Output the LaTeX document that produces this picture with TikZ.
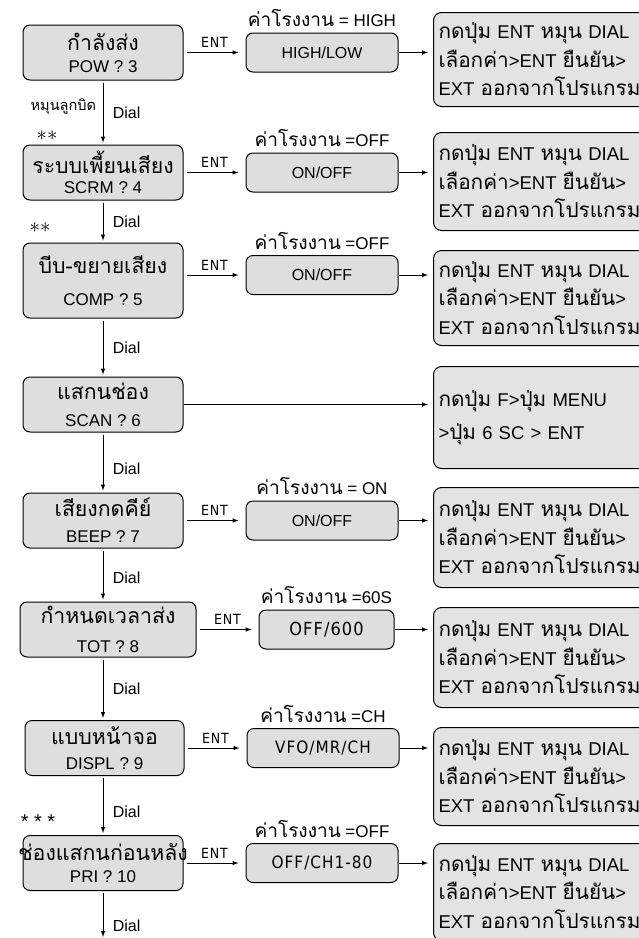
\documentclass[tikz,border=0pt]{standalone}
\usepackage{fontspec}
\setmainfont{Liberation Sans}
\newfontfamily\thai[Script=Thai, Scale=1.12]{Loma}
\newfontfamily\narrow[LetterSpace=6]{DejaVu Sans Condensed}
\usetikzlibrary{positioning,arrows}

\newcommand{\entdial}{{\thai กดปุ่ม} ENT {\thai หมุน} DIAL\\
  {\thai เลือกค่า}>ENT {\thai ยืนยัน}>\\
  EXT {\thai ออกจากโปรแกรม}}
\newcommand{\deflt}[1]{{\thai ค่าโรงงาน} #1}
\newcommand{\mthai}[1]{{\thai\fontsize{19}{22}\selectfont #1}}

\begin{document}
\begin{tikzpicture}[
    x=1pt, y=-1pt,
    >=latex,
    node distance=62pt,
    menu/.style={ draw=black, fill=black!13,
      rounded corners=7pt, line width=1pt,
      align=center,
      minimum width=160pt,
      minimum height=55pt,
      inner sep=1pt,
      font=\fontsize{17}{22}\selectfont},
    value/.style={ draw=black, fill=black!13,
      rounded corners=7pt, line width=1pt,
      minimum width=152pt,
      minimum height=39pt,
      font=\fontsize{16}{19}\selectfont},
    howto/.style={ draw=black, fill=black!11,
      rounded corners=8pt, line width=1pt,
      anchor=north west, align=left,
      text width=260pt, inner xsep=5pt,
      font=\fontsize{18.5}{28.5}\selectfont},
    factory/.style={above=2pt, font=\fontsize{17}{20}\selectfont},
    ent/.style={above=1pt, font=\narrow\fontsize{14}{16}\selectfont},
    dial/.style={right=6pt, font=\fontsize{16}{18}\selectfont},
    twist/.style={left=3pt, font=\thai\fontsize{13}{14}\selectfont},
    link/.style={->, line width=1pt}]
    \useasboundingbox (0,0) rectangle (639,938);
    \clip (0,0) rectangle (639,938);

    \node[menu] (pow) at (103,52.5) {\mthai{กำลังส่ง}\\POW ? 3};
    \node[menu] (scrm) at (103,172.5) {\mthai{ระบบเพี้ยนเสียง}\\[-2pt]SCRM ? 4};
    \node[menu, minimum height=75pt] (comp) at (103,280.5) {\mthai{บีบ-ขยายเสียง}\\[10pt]COMP ? 5};
    \node[menu] (scan) at (103,404.5) {\mthai{แสกนช่อง}\\[5pt]SCAN ? 6};
    \node[menu] (beep) at (103,520.5) {\mthai{เสียงกดคีย์}\\[4pt]BEEP ? 7};
    \node[menu, minimum width=176pt] (tot) at (108,629.5) {\mthai{กำหนดเวลาส่ง}\\[7pt]TOT ? 8};
    \node[menu, minimum width=159pt] (displ) at (104.5,748) {\mthai{แบบหน้าจอ}\\[3pt]DISPL ? 9};
    \node[menu] (pri) at (103,863) {\makebox[150pt]{\mthai{ช่องแสกนก่อนหลัง}}\\PRI ? 10};
    \coordinate (out) at (103,937);

    \node[value, right=of pow] (powv) {HIGH/LOW};
    \node[value, right=of scrm] (scrmv) {ON/OFF};
    \node[value, right=of comp, yshift=5.5pt] (compv) {ON/OFF};
    \node[value, right=of beep] (beepv) {ON/OFF};
    \node[value, right=of tot, minimum width=135pt] (totv) {\narrow\fontsize{18}{20}\selectfont OFF/600};
    \node[value, right=of displ] (displv) {\narrow\fontsize{17}{20}\selectfont VFO/MR/CH};
    \node[value, right=of pri] (priv) {\narrow\fontsize{17}{20}\selectfont OFF/CH1-80};

    \node[factory] at (powv.north) {\deflt{= HIGH}};
    \node[factory] at (scrmv.north) {\deflt{=OFF}};
    \node[factory] at (compv.north) {\deflt{=OFF}};
    \node[factory] at (beepv.north) {\deflt{= ON}};
    \node[factory] at (totv.north) {\deflt{=60S}};
    \node[factory] at (displv.north) {\deflt{=CH}};
    \node[factory] at (priv.north) {\deflt{=OFF}};

    \node[howto, minimum height=94pt] (powh) at (433,12) {\entdial};
    \node[howto, minimum height=98pt] (scrmh) at (433,132) {\entdial};
    \node[howto, minimum height=95pt] (comph) at (433,250) {\entdial};
    \node[howto, minimum height=102pt] (scanh) at (433,366)
      {{\thai กดปุ่ม} F>{\thai ปุ่ม} MENU\\[5pt]>{\thai ปุ่ม} 6 SC > ENT};
    \node[howto, minimum height=100pt] (beeph) at (433,487) {\entdial};
    \node[howto, minimum height=100pt] (toth) at (433,607) {\entdial};
    \node[howto, minimum height=98pt] (displh) at (433,727) {\entdial};
    \node[howto, minimum height=97pt] (prih) at (433,843) {\entdial};

    \node[font=\fontsize{22}{22}\selectfont] (star1) at (47,136) {$\ast\ast$};
    \node[font=\fontsize{22}{22}\selectfont] (star2) at (40,228) {$\ast\ast$};
    \node[font=\fontsize{20}{20}\selectfont] (star3) at (38,822) {* * *};

    \draw[link, shorten <=2pt, shorten >=2pt] (pow) -- node[dial] {Dial}
      node[twist, pos=0.4] {หมุนลูกบิด} (scrm);
    \draw[link, shorten <=2pt, shorten >=2pt] (scrm) -- node[dial] {Dial} (comp);
    \draw[link, shorten <=2pt, shorten >=2pt] (comp) -- node[dial] {Dial} (scan);
    \draw[link, shorten <=2pt, shorten >=2pt] (scan) -- node[dial, pos=0.6] {Dial} (beep);
    \draw[link, shorten <=2pt, shorten >=2pt] (beep.south) -- node[dial, pos=0.55] {Dial} (beep.south |- tot.north);
    \draw[link, shorten <=2pt, shorten >=2pt] (beep.south |- tot.south) -- node[dial] {Dial} (displ.north -| beep.south);
    \draw[link, shorten <=2pt, shorten >=2pt] (beep.south |- displ.south) -- node[dial, pos=0.6] {Dial} (pri);
    \draw[link, shorten <=2pt] (pri) -- node[dial, pos=0.75] {Dial} (out);

    \draw[link, shorten <=3pt, shorten >=7pt] (pow) -- node[ent] {ENT} (powv);
    \draw[link, shorten <=3pt, shorten >=7pt] (scrm) -- node[ent] {ENT} (scrmv);
    \draw[link, shorten <=3pt, shorten >=7pt] (comp.east |- compv) -- node[ent] {ENT} (compv);
    \draw[link, shorten <=3pt, shorten >=7pt] (beep) -- node[ent] {ENT} (beepv);
    \draw[link, shorten <=3pt, shorten >=7pt] (tot) -- node[ent] {ENT} (totv);
    \draw[link, shorten <=3pt, shorten >=7pt] (displ) -- node[ent] {ENT} (displv);
    \draw[link, shorten <=3pt, shorten >=7pt] (pri) -- node[ent] {ENT} (priv);

    \draw[link, shorten >=5pt] (powv) -- (powv -| powh.west);
    \draw[link, shorten >=5pt] (scrmv) -- (scrmv -| scrmh.west);
    \draw[link, shorten >=5pt] (compv) -- (compv -| comph.west);
    \draw[link, shorten >=5pt] (scan) -- (scan -| scanh.west);
    \draw[link, shorten >=5pt] (beepv) -- (beepv -| beeph.west);
    \draw[link, shorten >=5pt] (totv) -- (totv -| toth.west);
    \draw[link, shorten >=5pt] (displv) -- (displv -| displh.west);
    \draw[link, shorten >=5pt] (priv) -- (priv -| prih.west);
\end{tikzpicture}
\end{document}
